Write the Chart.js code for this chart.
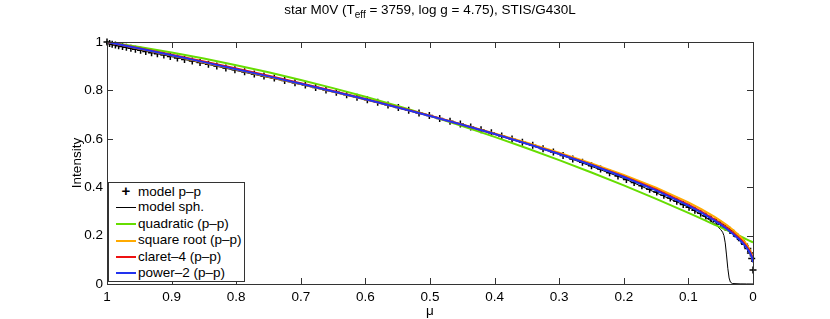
<!DOCTYPE html>
<html>
<head>
<meta charset="utf-8">
<script src="https://cdn.jsdelivr.net/npm/chart.js@4/dist/chart.umd.min.js"></script>
<style>
  body { margin: 0; background: #fff; font-family: "Liberation Sans", Arial, sans-serif; }
  #wrap { position: relative; width: 830px; height: 319px; }
  #title { position: absolute; left: 0; top: 2px; width: 860px; text-align: center; font-size: 13.5px; color: #000; }
  #title sub { font-size: 10px; vertical-align: -4px; line-height: 0; }
  #legend { position: absolute; left: 108px; top: 182px; width: 135px; height: 98px; border: 1px solid #333; background: #fff; font-size: 13.5px; }
  #legend .row { position: absolute; left: 0; height: 16px; line-height: 16px; white-space: nowrap; }
  #legend .sw { display: inline-block; width: 20px; margin-left: 7px; margin-right: 2px; vertical-align: middle; }
  #legend .mk { display: inline-block; width: 20px; margin-left: 7px; margin-right: 2px; text-align: center; font-weight: bold; font-size: 15px; }
</style>
</head>
<body>
<div id="wrap">
  <canvas id="chart" width="830" height="319"></canvas>
  <div id="title">star M0V (T<sub>eff</sub> = 3759, log g = 4.75), STIS/G430L</div>
  <div id="legend"></div>
</div>
<script>
// model p-p (plus markers)
const markerMu = [1.000, 0.996, 0.992, 0.987, 0.982, 0.976, 0.970, 0.963, 0.956, 0.948,
  0.940, 0.931, 0.922, 0.912, 0.902, 0.891, 0.880, 0.868, 0.856, 0.843,
  0.830, 0.816, 0.802, 0.787, 0.772, 0.757, 0.741, 0.725, 0.709, 0.693,
  0.677, 0.661, 0.645, 0.629, 0.613, 0.597, 0.581, 0.565, 0.549, 0.533,
  0.517, 0.501, 0.485, 0.469, 0.453, 0.437, 0.421, 0.405, 0.389, 0.373,
  0.357, 0.341, 0.325, 0.309, 0.294, 0.279, 0.264, 0.250, 0.236, 0.222,
  0.209, 0.196, 0.184, 0.172, 0.160, 0.149, 0.138, 0.128, 0.118, 0.108,
  0.099, 0.090, 0.081, 0.073, 0.065, 0.057, 0.050, 0.043, 0.036, 0.030,
  0.024, 0.018, 0.013, 0.008, 0.004, 0.002, 0.000];
const markerI = [1.000, 0.994, 0.991, 0.988, 0.985, 0.981, 0.978, 0.974, 0.970, 0.966,
  0.961, 0.956, 0.951, 0.946, 0.940, 0.934, 0.928, 0.921, 0.915, 0.908,
  0.901, 0.893, 0.885, 0.877, 0.868, 0.860, 0.851, 0.841, 0.832, 0.822,
  0.812, 0.802, 0.792, 0.782, 0.772, 0.761, 0.751, 0.740, 0.729, 0.718,
  0.707, 0.696, 0.684, 0.673, 0.661, 0.649, 0.637, 0.625, 0.612, 0.599,
  0.586, 0.573, 0.559, 0.545, 0.531, 0.517, 0.503, 0.489, 0.475, 0.460,
  0.446, 0.432, 0.419, 0.406, 0.392, 0.380, 0.367, 0.355, 0.342, 0.329,
  0.317, 0.305, 0.292, 0.281, 0.270, 0.258, 0.247, 0.235, 0.222, 0.210,
  0.196, 0.180, 0.164, 0.147, 0.128, 0.105, 0.058];

// model sph. (thin black line)
const sphMu = [1.0, 0.9, 0.8, 0.7, 0.6, 0.5, 0.4, 0.3, 0.2, 0.1, 0.09, 0.08, 0.07, 0.065,
  0.06, 0.055, 0.05, 0.047, 0.045, 0.043, 0.041, 0.039, 0.037, 0.035, 0.032, 0.02, 0.01, 0.0];
const sphI = [1.0, 0.940, 0.882, 0.824, 0.762, 0.695, 0.620, 0.536, 0.436, 0.318, 0.302, 0.286, 0.270, 0.260,
  0.250, 0.238, 0.225, 0.214, 0.200, 0.170, 0.120, 0.065, 0.025, 0.008, 0.002, 0.0005, 0.0002, 0.0];

// fitted laws
const lineMu = [1.0, 0.95, 0.9, 0.85, 0.8, 0.75, 0.7, 0.65, 0.6, 0.55, 0.5, 0.45, 0.4, 0.35, 0.3,
  0.25, 0.2, 0.15, 0.1, 0.08, 0.06, 0.05, 0.04, 0.03, 0.02, 0.015, 0.01, 0.005, 0.002, 0.0];
const quadI = [1.0, 0.9793, 0.9564, 0.9314, 0.9042, 0.8748, 0.8432, 0.8094, 0.7734, 0.7353, 0.695, 0.6525, 0.6078, 0.5610, 0.5120,
  0.4608, 0.4074, 0.3518, 0.2940, 0.2700, 0.2456, 0.2341, 0.2214, 0.2094, 0.1972, 0.1910, 0.1847, 0.1784, 0.1746, 0.172];
const sqrtI = [1.0, 0.9724, 0.9443, 0.9156, 0.8864, 0.8565, 0.8259, 0.7946, 0.7624, 0.7292, 0.6949, 0.6594, 0.6223, 0.5834, 0.5423,
  0.4985, 0.4510, 0.3983, 0.3375, 0.3097, 0.2785, 0.2612, 0.2422, 0.2210, 0.1961, 0.1815, 0.1643, 0.1421, 0.1228, 0.09];
const claretI = [1.0, 0.9745, 0.9475, 0.9195, 0.8905, 0.8605, 0.8295, 0.7975, 0.7645, 0.7303, 0.6950, 0.6583, 0.6200, 0.5800, 0.5380,
  0.4935, 0.4450, 0.3905, 0.3280, 0.2990, 0.2675, 0.2500, 0.2310, 0.2100, 0.1860, 0.1720, 0.1560, 0.1350, 0.1170, 0.095];
const powerI = [1.0, 0.9729, 0.9452, 0.9168, 0.8877, 0.8579, 0.8273, 0.7958, 0.7632, 0.7295, 0.6945, 0.6581, 0.6200, 0.5798, 0.5372,
  0.4916, 0.4421, 0.3871, 0.3239, 0.2950, 0.2630, 0.2454, 0.2262, 0.2050, 0.1805, 0.1664, 0.1501, 0.1299, 0.1133, 0.09];

const legendItems = [
  { label: "model p\u2013p", color: "#000", marker: true },
  { label: "model sph.", color: "#000", width: 1 },
  { label: "quadratic (p\u2013p)", color: "#66dd00", width: 2 },
  { label: "square root (p\u2013p)", color: "#ffaa00", width: 2 },
  { label: "claret\u20134 (p\u2013p)", color: "#ee1111", width: 2 },
  { label: "power\u20132 (p\u2013p)", color: "#2233ee", width: 2 }
];

const pts = (xs, ys) => xs.map((x, i) => ({ x: x, y: ys[i] }));
const FONT = "'Liberation Sans', Arial, sans-serif";
// matlab style tick text: 1, 0.9 ... 0
const tickText = v => String(Number(v.toFixed(2)));

// legend (inside the axes, bottom left)
const legend = document.getElementById("legend");
legendItems.forEach((it, i) => {
  const row = document.createElement("div");
  row.className = "row";
  row.style.top = (i * 16.4) + "px";
  const sw = it.marker
    ? `<span class="mk">+</span>`
    : `<span class="sw" style="border-top:${it.width}px solid ${it.color}"></span>`;
  row.innerHTML = sw + `<span>${it.label}</span>`;
  legend.appendChild(row);
});

// box + inward ticks like matlab
const boxPlugin = {
  id: "box",
  afterDraw(chart) {
    const { ctx, chartArea: a, scales } = chart;
    ctx.save();
    ctx.strokeStyle = "#333";
    ctx.lineWidth = 1;
    ctx.strokeRect(a.left + 0.5, a.top + 0.5, a.right - a.left, a.bottom - a.top);
    ctx.beginPath();
    scales.x.ticks.forEach(t => {
      const px = Math.round(scales.x.getPixelForValue(t.value)) + 0.5;
      ctx.moveTo(px, a.bottom); ctx.lineTo(px, a.bottom - 6);
      ctx.moveTo(px, a.top); ctx.lineTo(px, a.top + 6);
    });
    scales.y.ticks.forEach(t => {
      const py = Math.round(scales.y.getPixelForValue(t.value)) + 0.5;
      ctx.moveTo(a.left, py); ctx.lineTo(a.left + 6, py);
      ctx.moveTo(a.right, py); ctx.lineTo(a.right - 6, py);
    });
    ctx.stroke();
    ctx.restore();
  }
};

const lineSet = (label, data, color, width, order) => ({
  label: label, data: data, showLine: true, borderColor: color, backgroundColor: color,
  borderWidth: width, pointRadius: 0, tension: 0, order: order
});

new Chart(document.getElementById("chart"), {
  type: "scatter",
  data: {
    datasets: [
      {
        label: legendItems[0].label, data: pts(markerMu, markerI), pointStyle: "cross",
        pointRadius: 3.5, borderWidth: 1.5, borderColor: "#000", backgroundColor: "#000",
        showLine: false, clip: false, order: 6
      },
      lineSet(legendItems[1].label, pts(sphMu, sphI), "#000", 1, 5),
      lineSet(legendItems[2].label, pts(lineMu, quadI), legendItems[2].color, 2, 4),
      lineSet(legendItems[3].label, pts(lineMu, sqrtI), legendItems[3].color, 2, 3),
      lineSet(legendItems[4].label, pts(lineMu, claretI), legendItems[4].color, 2, 2),
      lineSet(legendItems[5].label, pts(lineMu, powerI), legendItems[5].color, 2, 1)
    ]
  },
  options: {
    responsive: false,
    animation: false,
    devicePixelRatio: 1,
    layout: { padding: { top: 42, right: 77, bottom: 0, left: 0 } },
    plugins: { legend: { display: false }, tooltip: { enabled: false }, title: { display: false } },
    scales: {
      x: {
        type: "linear", reverse: true, min: 0, max: 1,
        grid: { display: false, drawTicks: false },
        border: { display: false },
        ticks: { stepSize: 0.1, padding: 5, color: "#000", font: { family: FONT, size: 13.5 }, callback: tickText },
        title: { display: true, text: "\u03bc", color: "#000", padding: { top: 0, bottom: 0 }, font: { family: FONT, size: 13.5 } },
        afterFit(s) { s.height = 35; }
      },
      y: {
        type: "linear", min: 0, max: 1,
        grid: { display: false, drawTicks: false },
        border: { display: false },
        ticks: { stepSize: 0.2, padding: 4, color: "#000", font: { family: FONT, size: 13.5 }, callback: tickText },
        title: { display: true, text: "Intensity", color: "#000", padding: { top: 69, bottom: 0 }, font: { family: FONT, size: 13.5 } },
        afterFit(s) { s.width = 107; }
      }
    }
  },
  plugins: [boxPlugin]
});
</script>
</body>
</html>
